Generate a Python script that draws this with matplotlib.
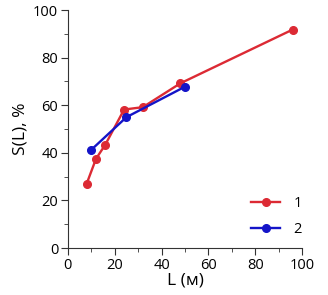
import matplotlib
matplotlib.use("Agg")
import matplotlib.pyplot as plt
from matplotlib.ticker import MultipleLocator

plt.rcParams['font.family'] = ['Open Sans', 'DejaVu Sans']

x1 = [8, 12, 16, 24, 32, 48, 96]
y1 = [27, 37.5, 43.5, 58.2, 59.2, 69.2, 91.8]
x2 = [10, 25, 50]
y2 = [41.3, 55, 67.8]
labels = ["1", "2"]

fig = plt.figure(figsize=(3.28, 2.95), dpi=100)
ax = fig.add_axes([0.207, 0.159, 0.714, 0.807])
ax.plot(x1, y1, color="#dc2a34", marker="o", ms=5.5, lw=1.7, label=labels[0])
ax.plot(x2, y2, color="#1414c8", marker="o", ms=5.5, lw=1.7, label=labels[1])
ax.set_xlim(0, 100)
ax.set_ylim(0, 100)
ax.xaxis.set_major_locator(MultipleLocator(20))
ax.xaxis.set_minor_locator(MultipleLocator(10))
ax.yaxis.set_major_locator(MultipleLocator(20))
ax.yaxis.set_minor_locator(MultipleLocator(10))
for s in ["top", "right"]:
    ax.spines[s].set_visible(False)
for s in ["left", "bottom"]:
    ax.spines[s].set_color("#333333")
ax.tick_params(which="major", length=5, color="#333333", labelsize=10.5, pad=2)
ax.tick_params(which="minor", length=3, color="#333333")
ax.set_xlabel("L (м)", fontsize=12.5, labelpad=0)
ax.set_ylabel("S(L), %", fontsize=12.5, labelpad=3)
ax.legend(loc="lower right", bbox_to_anchor=(1.055, -0.01), frameon=False,
          fontsize=10.5, handlelength=2.0, handletextpad=0.9, labelspacing=0.75)
fig.savefig("out.png", dpi=100)
